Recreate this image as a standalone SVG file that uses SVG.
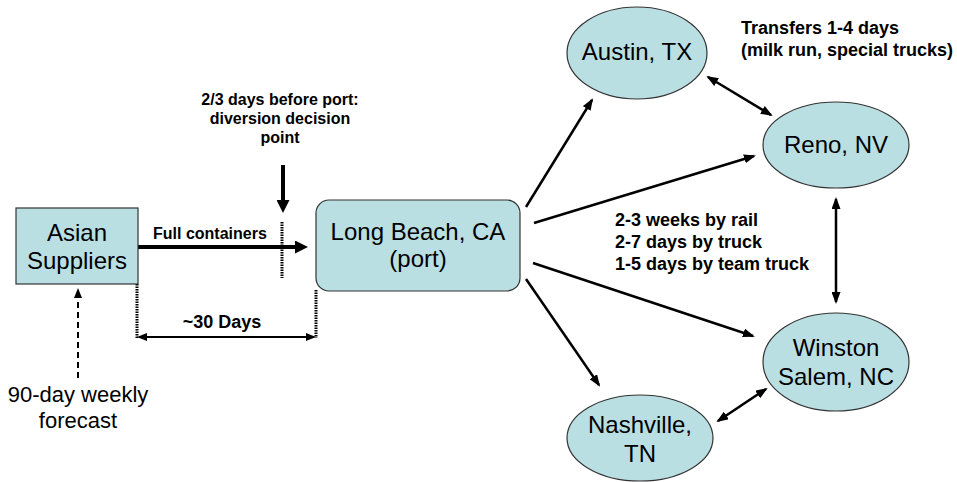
<svg xmlns="http://www.w3.org/2000/svg" width="957" height="482" viewBox="0 0 957 482">
<style>
.node{fill:#BADFE3;stroke:#333;stroke-width:1.2}
.lbl{font-family:"Liberation Sans",Arial,sans-serif;font-size:24px;fill:#000;text-anchor:middle}
.b{font-family:"Liberation Sans",Arial,sans-serif;font-weight:bold;fill:#000}
.ln{stroke:#000;stroke-width:2.5;fill:none}
.dot{stroke:#000;stroke-width:3;stroke-dasharray:1.5 1;fill:none}
</style>
<defs>
<marker id="ah" viewBox="0 0 12 9" refX="10" refY="4.5" markerWidth="12" markerHeight="9" markerUnits="userSpaceOnUse" orient="auto-start-reverse"><path d="M0,0 L12,4.5 L0,9 z" fill="#000"/></marker>
<marker id="ahT" viewBox="0 0 13 13" refX="3" refY="6.5" markerWidth="13" markerHeight="13" markerUnits="userSpaceOnUse" orient="auto"><path d="M0,0 L13,6.5 L0,13 z" fill="#000"/></marker>
<marker id="ahS" viewBox="0 0 10 8" refX="8" refY="4" markerWidth="10" markerHeight="8" markerUnits="userSpaceOnUse" orient="auto-start-reverse"><path d="M0,0 L10,4 L0,8 z" fill="#000"/></marker>
</defs>
<g id="connectors">
<line x1="138" y1="247" x2="298" y2="247" stroke="#000" stroke-width="4" marker-end="url(#ahT)"/>
<line x1="283" y1="165" x2="283" y2="203" stroke="#000" stroke-width="4" marker-end="url(#ahT)"/>
<line class="dot" x1="282" y1="222" x2="282" y2="278"/>
<line class="dot" x1="137" y1="284" x2="137" y2="338"/>
<line class="dot" x1="316" y1="290" x2="316" y2="338"/>
<line x1="139" y1="337" x2="314" y2="337" stroke="#000" stroke-width="2" marker-start="url(#ahS)" marker-end="url(#ahS)"/>
<line x1="78" y1="378" x2="78" y2="290" stroke="#000" stroke-width="2" stroke-dasharray="6 4" marker-end="url(#ahS)"/>
<line class="ln" x1="526" y1="207" x2="592" y2="100" marker-end="url(#ah)"/>
<line class="ln" x1="534" y1="223" x2="754" y2="156" marker-end="url(#ah)"/>
<line class="ln" x1="533" y1="263" x2="753" y2="336" marker-end="url(#ah)"/>
<line class="ln" x1="526" y1="279" x2="599" y2="385" marker-end="url(#ah)"/>
<line class="ln" x1="708" y1="77" x2="771" y2="115" marker-start="url(#ah)" marker-end="url(#ah)"/>
<line class="ln" x1="836" y1="199" x2="836" y2="302" marker-start="url(#ah)" marker-end="url(#ah)"/>
<line class="ln" x1="718" y1="421" x2="766" y2="389" marker-start="url(#ah)" marker-end="url(#ah)"/>
</g>
<g id="asian-suppliers">
<rect class="node" x="16" y="208" width="122" height="76"/>
<text class="lbl" x="77" y="241">Asian</text>
<text class="lbl" x="77" y="269">Suppliers</text>
</g>
<g id="long-beach">
<rect class="node" x="316" y="200" width="204" height="91" rx="13" ry="13"/>
<text class="lbl" x="418" y="240">Long Beach, CA</text>
<text class="lbl" x="418" y="267">(port)</text>
</g>
<g id="austin">
<ellipse class="node" cx="637" cy="53" rx="70" ry="46"/>
<text class="lbl" x="637" y="60">Austin, TX</text>
</g>
<g id="reno">
<ellipse class="node" cx="836" cy="145" rx="73" ry="43"/>
<text class="lbl" x="836" y="153">Reno, NV</text>
</g>
<g id="winston-salem">
<ellipse class="node" cx="836" cy="362" rx="73" ry="49"/>
<text class="lbl" x="836" y="356">Winston</text>
<text class="lbl" x="836" y="385">Salem, NC</text>
</g>
<g id="nashville">
<ellipse class="node" cx="640" cy="438" rx="73" ry="43"/>
<text class="lbl" x="640" y="433">Nashville,</text>
<text class="lbl" x="640" y="462">TN</text>
</g>
<g id="labels">
<text class="b" x="280" y="105" font-size="16" text-anchor="middle">2/3 days before port:</text>
<text class="b" x="280" y="124" font-size="16" text-anchor="middle">diversion decision</text>
<text class="b" x="280" y="143" font-size="16" text-anchor="middle">point</text>
<text class="b" x="153" y="239" font-size="16">Full containers</text>
<text class="b" x="222" y="328" font-size="18" text-anchor="middle">~30 Days</text>
<text x="78" y="402" font-family="Liberation Sans, Arial, sans-serif" font-size="22" text-anchor="middle">90-day weekly</text>
<text x="78" y="428" font-family="Liberation Sans, Arial, sans-serif" font-size="22" text-anchor="middle">forecast</text>
<text class="b" x="741" y="34" font-size="18">Transfers 1-4 days</text>
<text class="b" x="741" y="56" font-size="18">(milk run, special trucks)</text>
<text class="b" x="615" y="226" font-size="18">2-3 weeks by rail</text>
<text class="b" x="615" y="248" font-size="18">2-7 days by truck</text>
<text class="b" x="615" y="270" font-size="18">1-5 days by team truck</text>
</g>
</svg>
